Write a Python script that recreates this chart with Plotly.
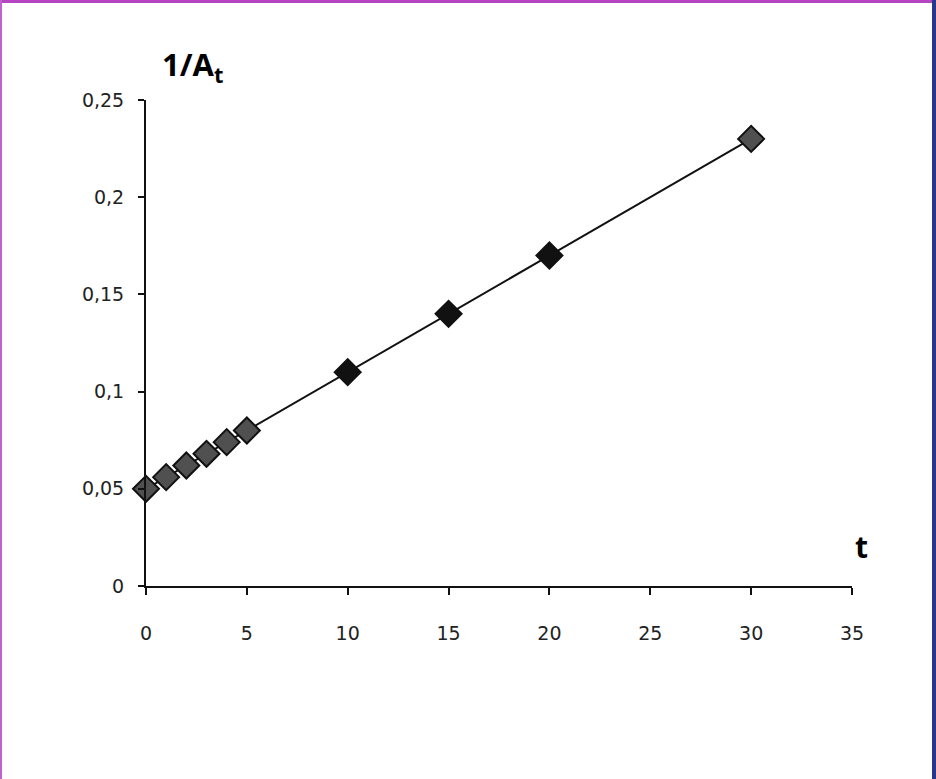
import plotly.graph_objects as go

# Data
t_values = [0, 1, 2, 3, 4, 5, 10, 15, 20, 30]
inv_A = [0.050, 0.056, 0.062, 0.068, 0.074, 0.080, 0.110, 0.140, 0.170, 0.230]
x_ticks = [0, 5, 10, 15, 20, 25, 30, 35]
x_tick_labels = ["0", "5", "10", "15", "20", "25", "30", "35"]
y_ticks = [0, 0.05, 0.10, 0.15, 0.20, 0.25]
y_tick_labels = ["0", "0,05", "0,1", "0,15", "0,2", "0,25"]

W, H = 936, 779
L, R, T, B = 146, 84, 100, 193
pw, ph = W - L - R, H - T - B

def px_x(p):
    return (p - L) / pw

def px_y(p):
    return (H - B - p) / ph

solid = {10, 15, 20}
marker_colors = ["#111111" if t in solid else "#505050" for t in t_values]

fig = go.Figure()
fig.add_trace(go.Scatter(
    x=t_values, y=inv_A, mode="lines+markers",
    line=dict(color="#111111", width=2),
    marker=dict(symbol="diamond", size=20, color=marker_colors,
                line=dict(color="#111111", width=2)),
    showlegend=False, cliponaxis=False,
))

axis_font = dict(family="DejaVu Sans", size=19, color="#222222")
fig.update_layout(
    width=W, height=H,
    margin=dict(l=L, r=R, t=T, b=B),
    paper_bgcolor="white", plot_bgcolor="white",
    xaxis=dict(range=[0, 35], tickvals=x_ticks, ticktext=x_tick_labels,
               showgrid=False, zeroline=False, showline=True,
               linecolor="#111111", linewidth=2, ticks="outside",
               ticklen=7, tickwidth=2, tickcolor="#111111",
               tickfont=axis_font, ticklabelstandoff=22),
    yaxis=dict(range=[0, 0.25], tickvals=y_ticks, ticktext=y_tick_labels,
               showgrid=False, zeroline=False, showline=True,
               linecolor="#111111", linewidth=2, ticks="outside",
               ticklen=6, tickwidth=2, tickcolor="#111111",
               tickfont=axis_font, ticklabelstandoff=10),
    annotations=[
        dict(text="<b>1/A<sub>t</sub></b>", xref="paper", yref="paper",
             x=px_x(160), y=px_y(66), xanchor="left", yanchor="middle",
             showarrow=False,
             font=dict(family="Open Sans", size=31, color="#000000")),
        dict(text="<b>t</b>", xref="paper", yref="paper",
             x=px_x(862), y=px_y(546), xanchor="center", yanchor="middle",
             showarrow=False,
             font=dict(family="Open Sans", size=30, color="#000000")),
    ],
    shapes=[
        dict(type="rect", xref="paper", yref="paper",
             x0=px_x(0), x1=px_x(W), y0=px_y(3), y1=px_y(0),
             fillcolor="#b545c2", line_width=0, layer="above"),
        dict(type="rect", xref="paper", yref="paper",
             x0=px_x(0), x1=px_x(2), y0=px_y(H), y1=px_y(0),
             fillcolor="#c061d0", line_width=0, layer="above"),
        dict(type="rect", xref="paper", yref="paper",
             x0=px_x(932), x1=px_x(W), y0=px_y(H), y1=px_y(0),
             fillcolor="#27378a", line_width=0, layer="above"),
    ],
)

fig.write_html("out.html", config={"displayModeBar": False},
               post_script="document.body.style.margin='0px';document.body.style.overflow='hidden';")
